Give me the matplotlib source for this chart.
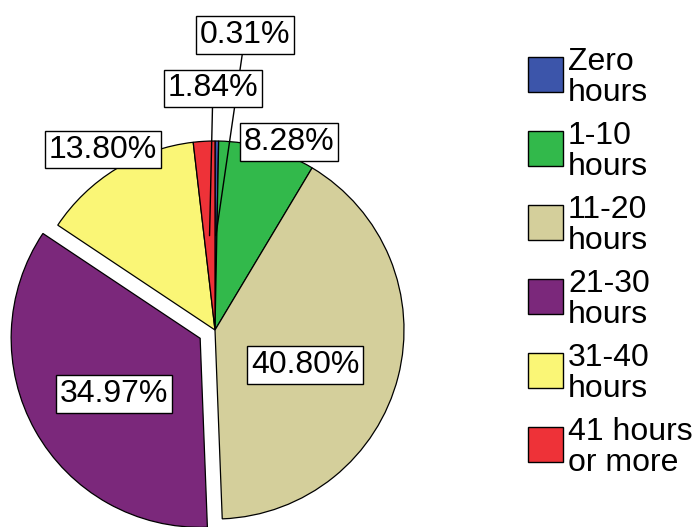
import numpy as np
import matplotlib
matplotlib.use("Agg")
import matplotlib.pyplot as plt
from matplotlib.patches import Rectangle

plt.rcParams['font.family'] = ['Liberation Sans', 'DejaVu Sans']

# data
categories = ["Zero\nhours", "1-10\nhours", "11-20\nhours", "21-30\nhours",
              "31-40\nhours", "41 hours\nor more"]
shares = [0.31, 8.28, 40.80, 34.97, 13.80, 1.84]
colors = ["#3C55AA", "#32B94B", "#D4CF9B", "#7B287B", "#FAF676", "#EE3238"]
explode = [0, 0, 0, 0.09, 0, 0]

# where each percentage box sits (data units, pie radius = 1)
label_pos = [(0.159, 1.560), (0.392, 0.995), (0.476, -0.185),
             (-0.534, -0.339), (-0.593, 0.955), (-0.011, 1.278)]
leader = [True, False, False, False, False, True]

fig = plt.figure(figsize=(7, 5.27), dpi=100)
ax = fig.add_axes([0, 0, 1, 1])

wedges, _ = ax.pie(shares, colors=colors, explode=explode, startangle=90,
                   counterclock=False, radius=1,
                   wedgeprops=dict(edgecolor="black", linewidth=0.9))

r_px = 189.0
cx, cy = 215.0, 330.0
ax.set_xlim(-cx / r_px, (700 - cx) / r_px)
ax.set_ylim(-(527 - cy) / r_px, cy / r_px)
ax.set_axis_off()

box = dict(boxstyle="square,pad=0.12", facecolor="white", edgecolor="black", linewidth=1.0)
for w, val, pos, lead in zip(wedges, shares, label_pos, leader):
    txt = f"{val:.2f}%"
    if lead:
        th = np.deg2rad((w.theta1 + w.theta2) / 2)
        c = w.center
        end = (c[0] + 0.5 * np.cos(th), c[1] + 0.5 * np.sin(th))
        ax.annotate(txt, xy=end, xytext=pos, ha="center", va="center",
                    fontsize=23, bbox=box,
                    arrowprops=dict(arrowstyle="-", color="black", lw=1.0,
                                    shrinkA=0, shrinkB=0))
    else:
        ax.text(pos[0], pos[1], txt, ha="center", va="center", fontsize=23, bbox=box)

# legend drawn in pixel positions
W, H = 700.0, 527.0
for i, (lab, col) in enumerate(zip(categories, colors)):
    top = 57 + i * 74.0
    fig.patches.append(Rectangle((528 / W, 1 - (top + 35) / H), 35 / W, 35 / H,
                                 transform=fig.transFigure, facecolor=col,
                                 edgecolor="black", linewidth=1.0))
    fig.text(568 / W, 1 - (top - 10) / H, lab, ha="left", va="top",
             fontsize=23, linespacing=1.03)

fig.savefig("out.png", dpi=100)
